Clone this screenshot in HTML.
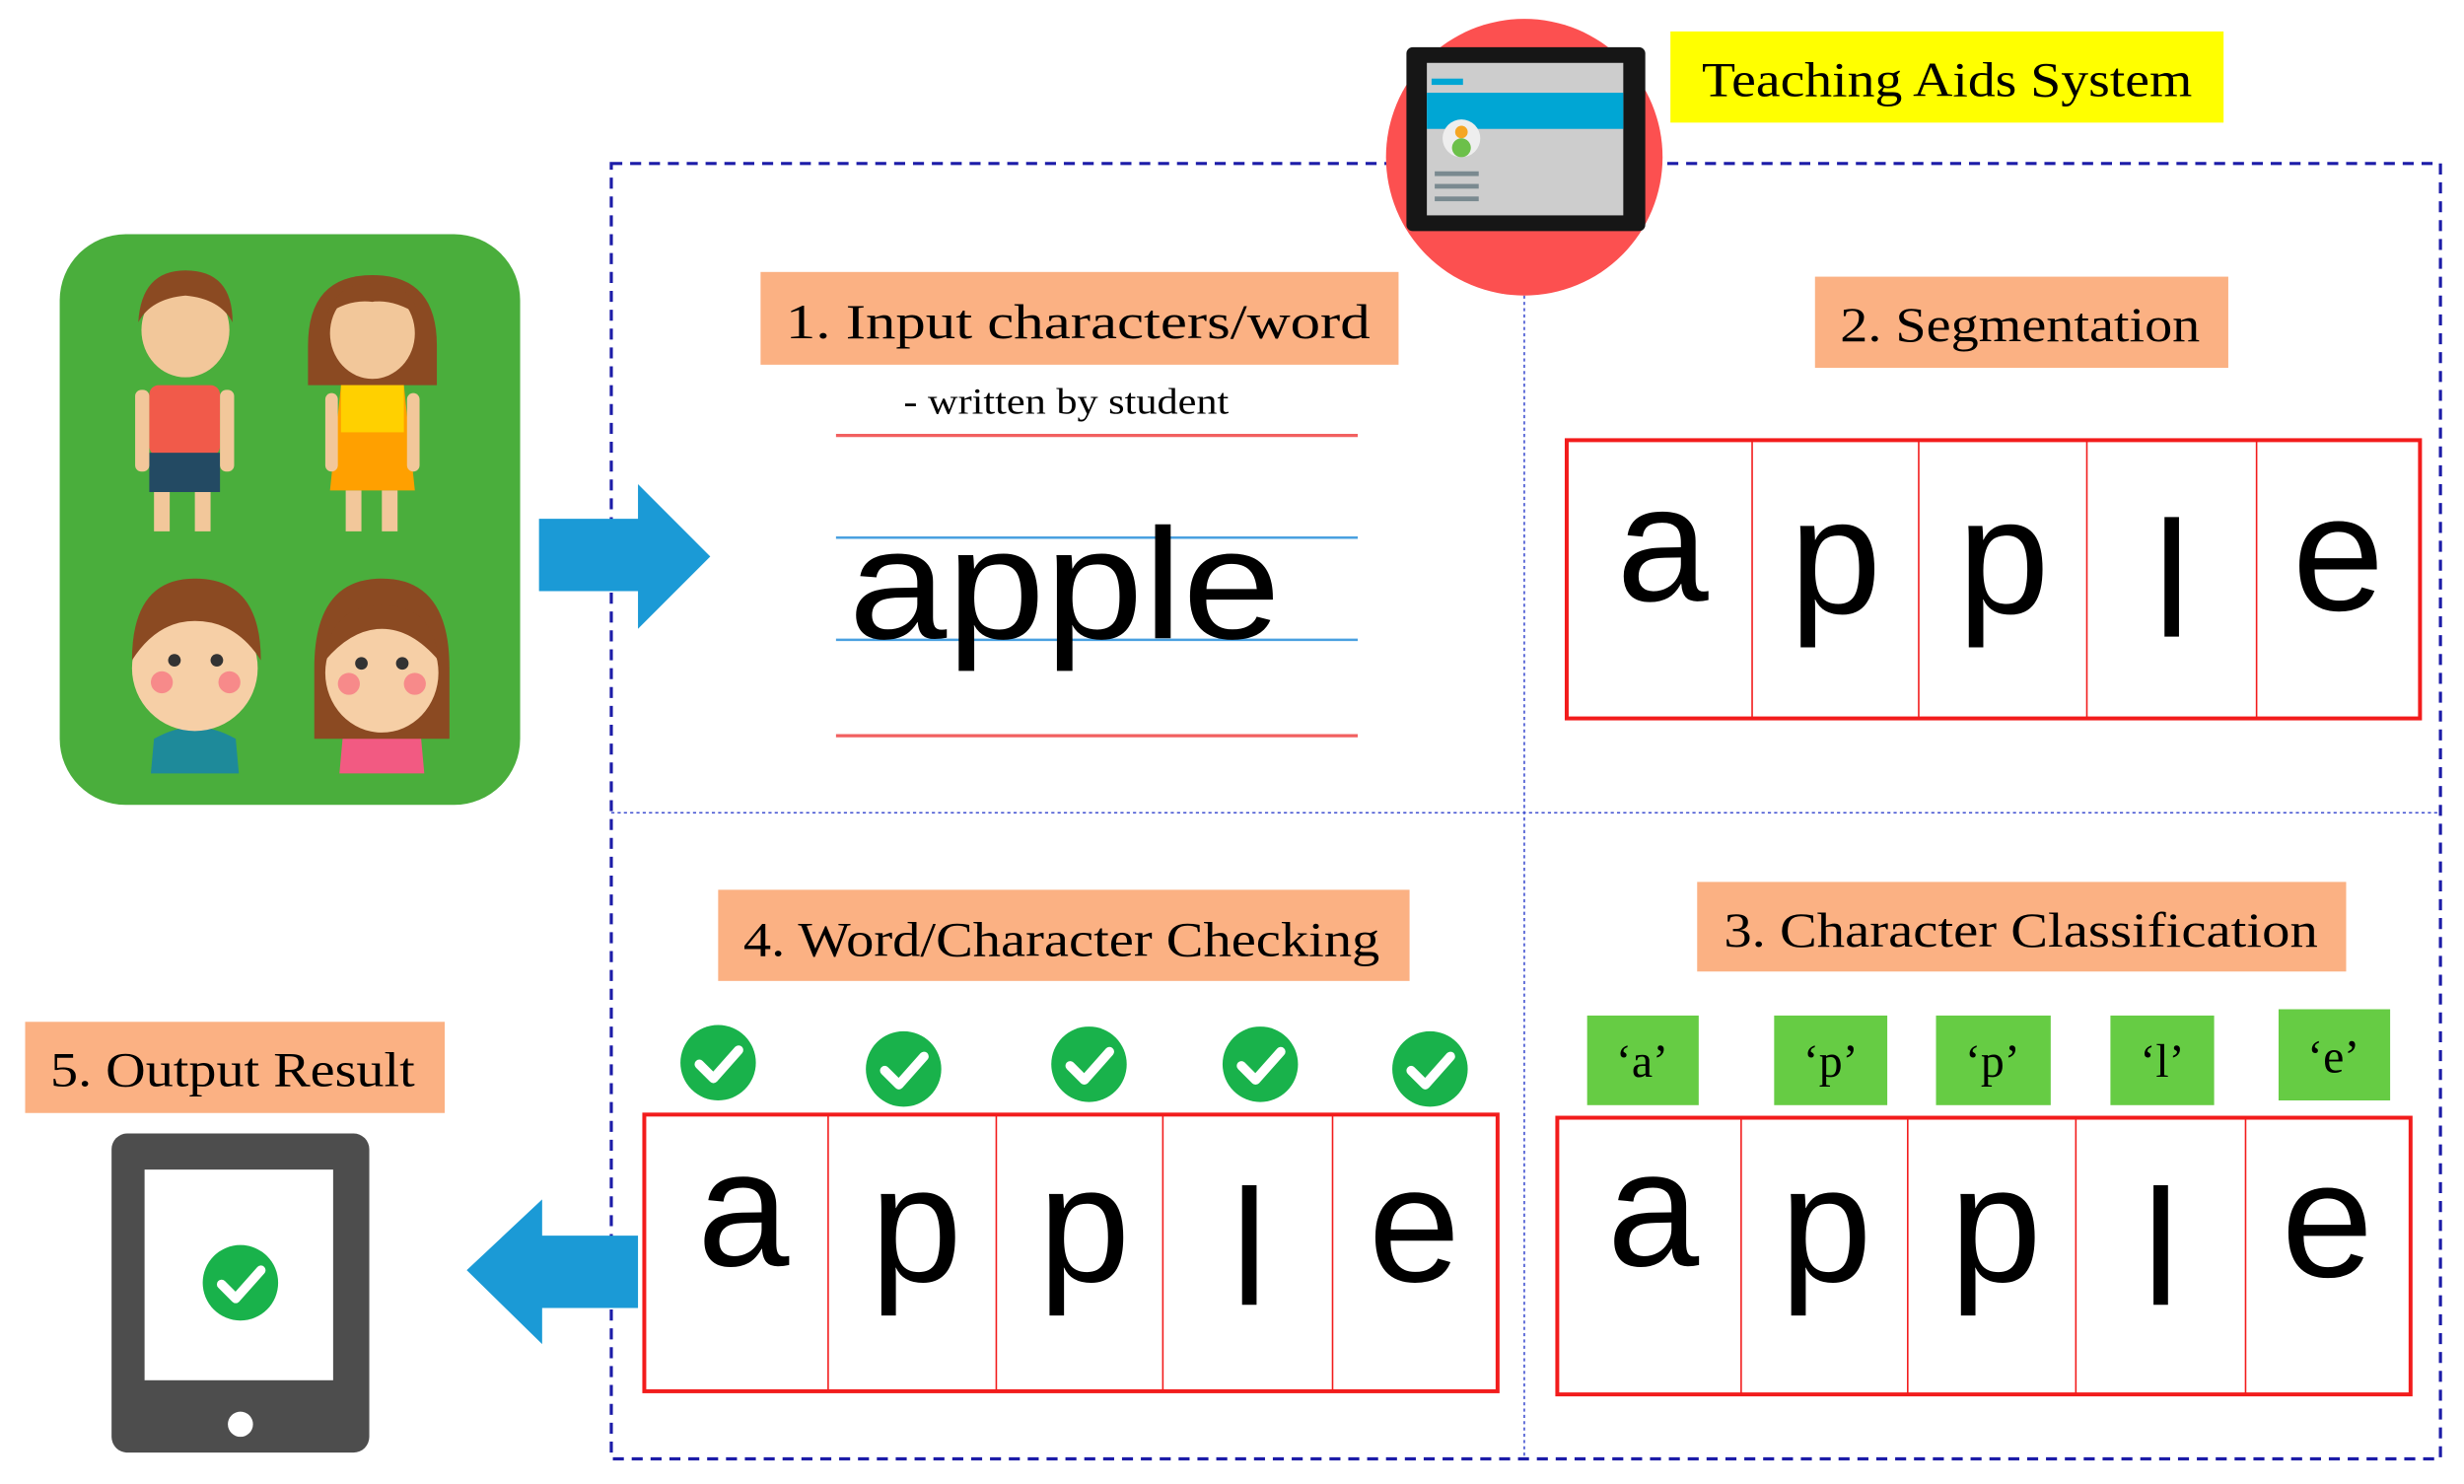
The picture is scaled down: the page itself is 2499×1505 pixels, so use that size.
<!DOCTYPE html>
<html><head><meta charset="utf-8"><style>html,body{margin:0;padding:0;background:#fff}svg{display:block}</style></head>
<body>
<svg width="2499" height="1505" viewBox="0 0 1568 944" preserveAspectRatio="none" xmlns="http://www.w3.org/2000/svg" font-family="Liberation Serif, serif">
<!-- frame -->
<rect x="389" y="104" width="1164" height="824" fill="none" stroke="#1c1ca8" stroke-width="2" stroke-dasharray="7,5"/>
<line x1="970" y1="104" x2="970" y2="928" stroke="#4050d0" stroke-width="1" stroke-dasharray="2,2"/>
<line x1="389" y1="517" x2="1553" y2="517" stroke="#4050d0" stroke-width="1" stroke-dasharray="2,2"/>

<!-- teaching aids icon -->
<ellipse cx="970" cy="100" rx="88" ry="88" fill="#fc5050"/>
<rect x="895" y="30" width="152" height="117" rx="4" fill="#161616"/>
<rect x="908" y="40" width="125" height="97" fill="#cdcdcd"/>
<rect x="908" y="59" width="125" height="23" fill="#00a6d4"/>
<rect x="911" y="50" width="20" height="4" fill="#00a6d4"/>
<circle cx="930" cy="88" r="12" fill="#eee"/>
<circle cx="930" cy="84" r="4" fill="#f5a623"/>
<circle cx="930" cy="94" r="6" fill="#6cc04a"/>
<rect x="913" y="109" width="28" height="3" fill="#7a8a90"/>
<rect x="913" y="117" width="28" height="3" fill="#7a8a90"/>
<rect x="913" y="125" width="28" height="3" fill="#7a8a90"/>
<rect x="1063" y="20" width="352" height="58" fill="#ffff00"/>
<text x="1239" y="61" font-size="31" text-anchor="middle" textLength="312" lengthAdjust="spacingAndGlyphs">Teaching Aids System</text>

<!-- kids panel -->
<rect x="38" y="149" width="293" height="363" rx="42" fill="#4aae3c"/>
<!-- boy top -->
<rect x="95" y="245" width="45" height="45" rx="6" fill="#f15a4a"/>
<rect x="95" y="288" width="45" height="25" fill="#234a63"/>
<rect x="98" y="313" width="10" height="25" fill="#f2c79a"/><rect x="124" y="313" width="10" height="25" fill="#f2c79a"/>
<rect x="86" y="248" width="9" height="52" rx="4" fill="#f2c79a"/><rect x="140" y="248" width="9" height="52" rx="4" fill="#f2c79a"/>
<ellipse cx="118" cy="210" rx="28" ry="30" fill="#f2c79a"/>
<path d="M88 205 Q90 172 118 172 Q148 172 148 205 Q140 190 118 188 Q96 190 88 205Z" fill="#8b4a22"/>
<!-- girl top -->
<path d="M196 220 Q196 175 237 175 Q278 175 278 220 L278 245 L196 245Z" fill="#8b4a22"/>
<ellipse cx="237" cy="212" rx="27" ry="29" fill="#f2c79a"/>
<path d="M208 200 Q215 180 237 180 Q262 180 266 200 Q250 190 237 192 Q222 190 208 200Z" fill="#8b4a22"/>
<path d="M217 245 L257 245 L264 312 L210 312Z" fill="#ffa000"/>
<rect x="217" y="245" width="40" height="30" fill="#ffd000"/>
<rect x="220" y="312" width="10" height="26" fill="#f2c79a"/><rect x="243" y="312" width="10" height="26" fill="#f2c79a"/>
<rect x="207" y="250" width="8" height="50" rx="4" fill="#f2c79a"/><rect x="259" y="250" width="8" height="50" rx="4" fill="#f2c79a"/>
<!-- boy bottom -->
<path d="M98 470 Q124 455 150 470 L152 492 L96 492Z" fill="#1e8a9a"/>
<ellipse cx="124" cy="425" rx="40" ry="40" fill="#f6cfa6"/>
<path d="M84 420 Q84 368 124 368 Q166 368 166 420 Q150 395 124 395 Q100 395 84 420Z" fill="#8b4a22"/>
<circle cx="111" cy="420" r="4" fill="#333"/><circle cx="138" cy="420" r="4" fill="#333"/>
<circle cx="103" cy="434" r="7" fill="#f78a8a"/><circle cx="146" cy="434" r="7" fill="#f78a8a"/>
<!-- girl bottom -->
<path d="M218 470 Q243 455 268 470 L270 492 L216 492Z" fill="#f25a82"/>
<path d="M200 425 Q200 368 243 368 Q286 368 286 425 L286 470 L200 470Z" fill="#8b4a22"/>
<ellipse cx="243" cy="428" rx="36" ry="38" fill="#f6cfa6"/>
<path d="M207 420 Q210 385 243 385 Q276 385 279 420 Q262 400 243 400 Q224 400 207 420Z" fill="#8b4a22"/>
<circle cx="230" cy="422" r="4" fill="#333"/><circle cx="256" cy="422" r="4" fill="#333"/>
<circle cx="222" cy="435" r="7" fill="#f78a8a"/><circle cx="264" cy="435" r="7" fill="#f78a8a"/>

<!-- right arrow -->
<polygon points="343,330 406,330 406,308 452,354 406,400 406,376 343,376" fill="#1b9ad6"/>

<!-- box1 -->
<rect x="484" y="173" width="406" height="59" fill="#fbb183"/>
<text x="500" y="215" font-size="31" textLength="372" lengthAdjust="spacingAndGlyphs">1.   Input characters/word</text>
<text x="575" y="263" font-size="23" textLength="207" lengthAdjust="spacingAndGlyphs">- written by student</text>
<line x1="532" y1="277" x2="864" y2="277" stroke="#f26060" stroke-width="2"/>
<line x1="532" y1="342" x2="864" y2="342" stroke="#4aa0e0" stroke-width="1.5"/>
<line x1="532" y1="407" x2="864" y2="407" stroke="#4aa0e0" stroke-width="1.5"/>
<line x1="532" y1="468" x2="864" y2="468" stroke="#f26060" stroke-width="2"/>
<text x="540" y="406" font-family="Liberation Sans, sans-serif" font-size="100" textLength="275" lengthAdjust="spacingAndGlyphs">apple</text>

<!-- box2 -->
<rect x="1155" y="176" width="263" height="58" fill="#fbb183"/>
<text x="1171" y="217" font-size="31" textLength="229" lengthAdjust="spacingAndGlyphs">2. Segmentation</text>
<g stroke="#f21c1c" fill="none">
<rect x="997" y="280" width="543" height="177" stroke-width="2.5"/>
<line x1="1115" y1="280" x2="1115" y2="457"/><line x1="1221" y1="280" x2="1221" y2="457"/><line x1="1328" y1="280" x2="1328" y2="457"/><line x1="1436" y1="280" x2="1436" y2="457"/>
</g>
<g font-family="Liberation Sans, sans-serif" font-size="105" text-anchor="middle" fill="#000">
<text x="1058" y="382">a</text><text x="1168" y="390">p</text><text x="1275" y="390">p</text><text x="1382" y="405">l</text><text x="1488" y="388">e</text>
</g>

<!-- box3 -->
<rect x="1080" y="561" width="413" height="57" fill="#fbb183"/>
<text x="1097" y="602" font-size="31" textLength="378" lengthAdjust="spacingAndGlyphs">3. Character Classification</text>
<g fill="#66cc44">
<rect x="1010" y="646" width="71" height="57"/><rect x="1129" y="646" width="72" height="57"/><rect x="1232" y="646" width="73" height="57"/><rect x="1343" y="646" width="66" height="57"/><rect x="1450" y="642" width="71" height="58"/>
</g>
<g font-size="30" text-anchor="middle">
<text x="1045" y="685">‘a’</text><text x="1165" y="685">‘p’</text><text x="1268" y="685">‘p’</text><text x="1376" y="685">‘l’</text><text x="1485" y="682">‘e’</text>
</g>
<g stroke="#f21c1c" fill="none">
<rect x="991" y="711" width="543" height="176" stroke-width="2.5"/>
<line x1="1108" y1="711" x2="1108" y2="887"/><line x1="1214" y1="711" x2="1214" y2="887"/><line x1="1321" y1="711" x2="1321" y2="887"/><line x1="1429" y1="711" x2="1429" y2="887"/>
</g>
<g font-family="Liberation Sans, sans-serif" font-size="105" text-anchor="middle" fill="#000">
<text x="1052" y="805">a</text><text x="1162" y="815">p</text><text x="1270" y="815">p</text><text x="1375" y="830">l</text><text x="1481" y="812">e</text>
</g>

<!-- box4 -->
<rect x="457" y="566" width="440" height="58" fill="#fbb183"/>
<text x="473" y="608" font-size="31" textLength="405" lengthAdjust="spacingAndGlyphs">4. Word/Character Checking</text>
<g>
<circle cx="457" cy="676" r="24" fill="#19b24b"/><circle cx="575" cy="680" r="24" fill="#19b24b"/><circle cx="693" cy="677" r="24" fill="#19b24b"/><circle cx="802" cy="677" r="24" fill="#19b24b"/><circle cx="910" cy="680" r="24" fill="#19b24b"/>
</g>
<g fill="none" stroke="#fff" stroke-width="6" stroke-linecap="round" stroke-linejoin="round">
<polyline points="445,677 454,686 470,668"/><polyline points="563,681 572,690 588,672"/><polyline points="681,678 690,687 706,669"/><polyline points="790,678 799,687 815,669"/><polyline points="898,681 907,690 923,672"/>
</g>
<g stroke="#f21c1c" fill="none">
<rect x="410" y="709" width="543" height="176" stroke-width="2.5"/>
<line x1="527" y1="709" x2="527" y2="885"/><line x1="634" y1="709" x2="634" y2="885"/><line x1="740" y1="709" x2="740" y2="885"/><line x1="848" y1="709" x2="848" y2="885"/>
</g>
<g font-family="Liberation Sans, sans-serif" font-size="105" text-anchor="middle" fill="#000">
<text x="473" y="805">a</text><text x="583" y="815">p</text><text x="690" y="815">p</text><text x="795" y="830">l</text><text x="900" y="815">e</text>
</g>

<!-- left arrow -->
<polygon points="406,786 345,786 345,763 297,808 345,855 345,832 406,832" fill="#1b9ad6"/>

<!-- box5 -->
<rect x="16" y="650" width="267" height="58" fill="#fbb183"/>
<text x="32" y="691" font-size="31" textLength="232" lengthAdjust="spacingAndGlyphs">5. Output Result</text>
<rect x="71" y="721" width="164" height="203" rx="10" fill="#4d4d4d"/>
<rect x="92" y="744" width="120" height="134" fill="#fff"/>
<circle cx="153" cy="816" r="24" fill="#19b24b"/>
<polyline points="141,817 150,826 166,808" fill="none" stroke="#fff" stroke-width="6" stroke-linecap="round" stroke-linejoin="round"/>
<circle cx="153" cy="906" r="8" fill="#fff"/>
</svg>
</body></html>
